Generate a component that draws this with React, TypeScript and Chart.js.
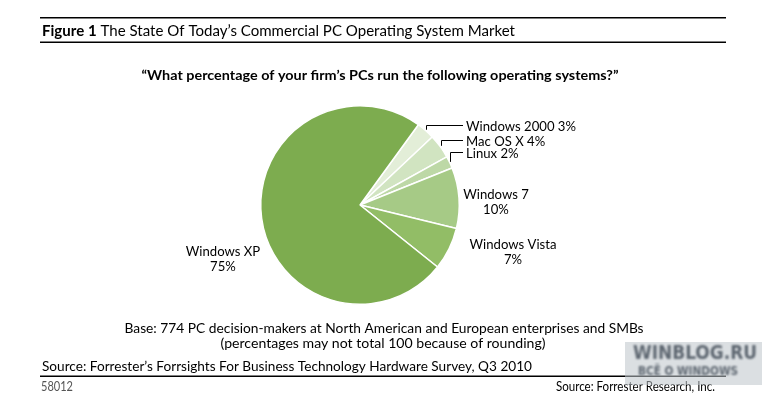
import React, { useEffect, useRef } from "react";
import { Chart, registerables } from "chart.js";

Chart.register(...registerables);

// ---- data ----
const categories = ["Windows 2000", "Mac OS X", "Linux", "Windows 7", "Windows Vista", "Windows XP"];
const shares = [3, 4, 2, 10, 7, 75];
const sliceColors = ["#e3eed8", "#d1e4c1", "#bdd8a6", "#a6ca86", "#92bd66", "#7dac4f"];

const titleBold = "Figure 1";
const titleRest = " The State Of Today’s Commercial PC Operating System Market";
const question = "“What percentage of your firm’s PCs run the following operating systems?”";
const baseLines = [
  "Base: 774 PC decision-makers at North American and European enterprises and SMBs",
  "(percentages may not total 100 because of rounding)",
];
const sourceText = "Source: Forrester’s Forrsights For Business Technology Hardware Survey, Q3 2010";
const figureId = "58012";
const creditText = "Source: Forrester Research, Inc.";
const watermarkLines = ["WINBLOG.RU", "ВСЁ О WINDOWS"];

const FONT = "Lato, 'Open Sans', sans-serif";
const WM_FONT = "'DejaVu Sans', Verdana, sans-serif";

function fitText(
  ctx: CanvasRenderingContext2D,
  text: string,
  x: number,
  y: number,
  width: number,
  align: CanvasTextAlign,
  font: string,
  color: string
) {
  ctx.save();
  ctx.font = font;
  const m = ctx.measureText(text).width;
  const s = m > 0 ? width / m : 1;
  ctx.translate(x, y);
  ctx.scale(s, 1);
  ctx.textAlign = align;
  ctx.textBaseline = "middle";
  ctx.fillStyle = color;
  ctx.fillText(text, 0, 0);
  ctx.restore();
}

const decorPlugin = {
  id: "decor",
  afterDraw(chart: any) {
    const ctx: CanvasRenderingContext2D = chart.ctx;
    const ink = "#000";
    ctx.save();

    // rules
    ctx.fillStyle = "#000";
    ctx.fillRect(40, 17, 686, 1.5);
    ctx.fillRect(40, 41.5, 686, 1.5);
    ctx.fillRect(40, 375.5, 686, 1.5);

    // title with bold lead
    {
      const fb = `bold 16px ${FONT}`;
      const fr = `16px ${FONT}`;
      ctx.font = fb;
      const wb = ctx.measureText(titleBold).width;
      ctx.font = fr;
      const wr = ctx.measureText(titleRest).width;
      const s = 473 / (wb + wr);
      ctx.save();
      ctx.translate(42, 30.5);
      ctx.scale(s, 1);
      ctx.textBaseline = "middle";
      ctx.textAlign = "left";
      ctx.fillStyle = ink;
      ctx.font = fb;
      ctx.fillText(titleBold, 0, 0);
      ctx.font = fr;
      ctx.fillText(titleRest, wb, 0);
      ctx.restore();
    }

    fitText(ctx, question, 380, 75, 477, "center", `bold 14px ${FONT}`, ink);
    fitText(ctx, baseLines[0], 384, 328, 519, "center", `14px ${FONT}`, ink);
    fitText(ctx, baseLines[1], 383, 343, 325, "center", `14px ${FONT}`, ink);
    fitText(ctx, sourceText, 42, 366, 490, "left", `14px ${FONT}`, ink);
    fitText(ctx, figureId, 41, 387, 32, "left", `13px ${FONT}`, "#555");
    fitText(ctx, creditText, 715, 387, 159, "right", `13px ${FONT}`, ink);

    // pie labels
    const meta = chart.getDatasetMeta(0);
    const arc0 = meta.data[0] as any;
    const cx = arc0.x;
    const cy = arc0.y;
    const R = arc0.outerRadius;
    const lf = `14px ${FONT}`;
    ctx.font = lf;
    const labelScale = 110 / ctx.measureText(`${categories[0]} ${shares[0]}%`).width;
    const drawLabel = (t: string, x: number, y: number, align: CanvasTextAlign) => {
      ctx.save();
      ctx.font = lf;
      ctx.translate(x, y);
      ctx.scale(labelScale, 1);
      ctx.textAlign = align;
      ctx.textBaseline = "middle";
      ctx.fillStyle = ink;
      ctx.fillText(t, 0, 0);
      ctx.restore();
    };

    const smallOffsets = [-79, -64, -52];
    for (let i = 0; i < 3; i++) {
      const a = meta.data[i] as any;
      const mid = (a.startAngle + a.endAngle) / 2;
      const ax = cx + (R + 1) * Math.cos(mid);
      const ay = cy + (R + 1) * Math.sin(mid);
      const ly = cy + smallOffsets[i];
      const lx = cx + 106;
      ctx.strokeStyle = "#000";
      ctx.lineWidth = 1;
      ctx.beginPath();
      ctx.moveTo(Math.round(ax) + 0.5, ay);
      ctx.lineTo(Math.round(ax) + 0.5, Math.round(ly - 1) + 0.5);
      ctx.lineTo(lx - 3, Math.round(ly - 1) + 0.5);
      ctx.stroke();
      drawLabel(`${categories[i]} ${shares[i]}%`, lx, ly, "left");
    }
    const twoLine: [number, number, number][] = [
      [3, 136, -11],
      [4, 153, 39],
      [5, -137, 46],
    ];
    for (const [i, dx, dy] of twoLine) {
      drawLabel(categories[i], cx + dx, cy + dy, "center");
      drawLabel(`${shares[i]}%`, cx + dx, cy + dy + 15, "center");
    }

    // watermark
    ctx.fillStyle = "rgba(190, 196, 202, 0.55)";
    ctx.fillRect(625, 342, 137, 43);
    ctx.save();
    ctx.filter = "blur(0.9px)";
    fitText(ctx, watermarkLines[0], 695, 354, 124, "center", `bold 20px ${WM_FONT}`, "#5d6670");
    fitText(ctx, watermarkLines[1], 688, 372, 100, "center", `bold 13px ${WM_FONT}`, "#5d6670");
    ctx.restore();

    ctx.restore();
  },
};

export default function App() {
  const ref = useRef<HTMLCanvasElement | null>(null);
  useEffect(() => {
    if (!ref.current) return;
    const chart = new Chart(ref.current, {
      type: "pie",
      data: {
        labels: categories,
        datasets: [
          {
            data: shares,
            backgroundColor: sliceColors,
            borderColor: "#ffffff",
            borderWidth: 1.5,
            hoverOffset: 0,
          },
        ],
      },
      options: {
        animation: false,
        responsive: false,
        maintainAspectRatio: false,
        devicePixelRatio: 1,
        rotation: 36,
        layout: { padding: { left: 260, right: 312, top: 105, bottom: 91 } },
        plugins: { legend: { display: false }, tooltip: { enabled: false } },
        events: [],
      },
      plugins: [decorPlugin],
    });
    return () => chart.destroy();
  }, []);
  return (
    <div style={{ position: "fixed", left: 0, top: 0, width: 772, height: 396, background: "#fff" }}>
      <canvas ref={ref} width={772} height={396} style={{ width: 772, height: 396, display: "block" }} />
    </div>
  );
}
